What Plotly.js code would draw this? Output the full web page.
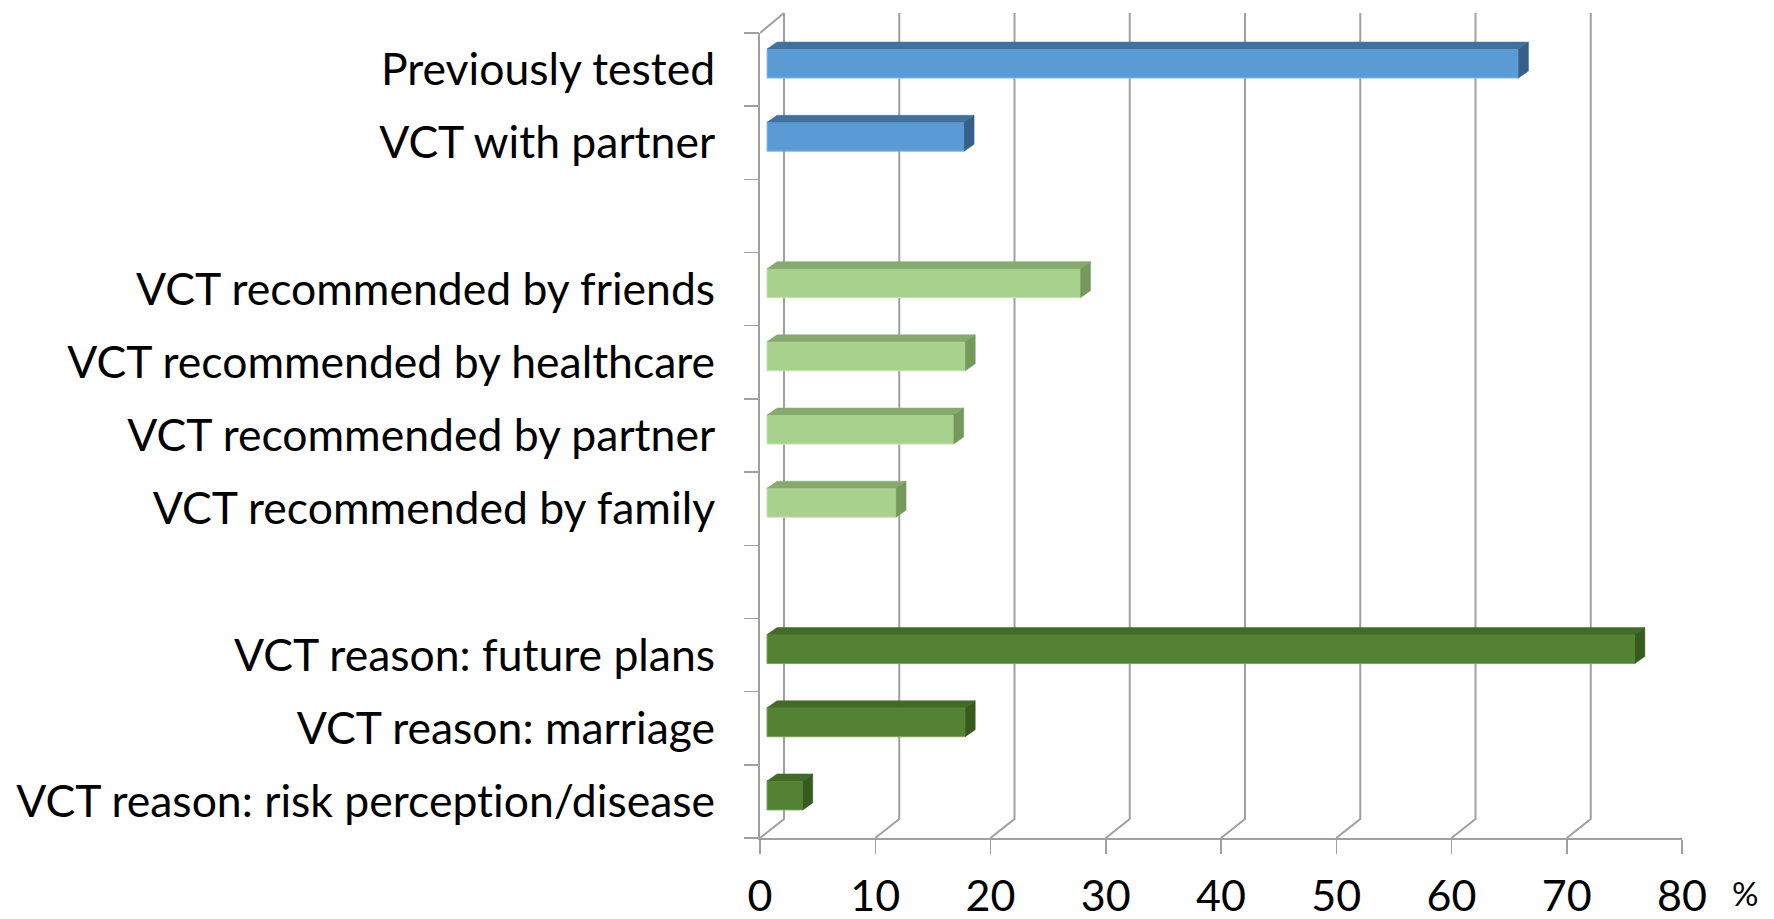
<!DOCTYPE html>
<html>
<head>
<meta charset="utf-8">
<script src="https://cdn.plot.ly/plotly-3.0.1.min.js"></script>
<style>html,body{margin:0;padding:0;background:#fff;}#chart{width:1774px;height:919px;}
#chart text{font-variant-ligatures:none;font-feature-settings:"liga" 0;}</style>
</head>
<body>
<div id="chart"></div>
<script>
// ---- data ----
const testLabels = ['Previously tested', 'VCT with partner'];
const testValues = [65.2, 17.1];
const recLabels = ['VCT recommended by friends', 'VCT recommended by healthcare', 'VCT recommended by partner', 'VCT recommended by family'];
const recValues = [27.2, 17.2, 16.2, 11.2];
const reasonLabels = ['VCT reason: future plans', 'VCT reason: marriage', 'VCT reason: risk perception/disease'];
const reasonValues = [75.3, 17.2, 3.1];
const xTickVals = [0, 10, 20, 30, 40, 50, 60, 70, 80];
const xUnit = '%';

// ---- geometry (pixels) ----
const W = 1774, H = 919;
const M = {l: 760, r: 92, t: 33, b: 81};
const plotW = W - M.l - M.r, plotH = H - M.t - M.b;
const groups = [
  {labels: testLabels, values: testValues, front: '#5B9BD5', top: '#41719F', side: '#34618A', edge: '#8DBBE6'},
  {labels: recLabels, values: recValues, front: '#A9D18E', top: '#86A96D', side: '#739A5B', edge: '#C6E2B3'},
  {labels: reasonLabels, values: reasonValues, front: '#548235', top: '#436B28', side: '#375B1F', edge: '#7AA35A'}
];
let nSlots = 0;
groups.forEach((g, i) => { g.start = nSlots; nSlots += g.labels.length + (i < groups.length - 1 ? 1 : 0); });
const PX_X = plotW / 80, PX_Y = plotH / nSlots;
const FRONT_DX = 7, FRONT_DY = 6, DEPTH_DX = 10, DEPTH_DY = 7, BAR_H = 29;
const WALL_DX = 24, WALL_DY = 19;
const GRID = '#A0A0A0';

const traces = [];
const tickVals = [], tickText = [];
groups.forEach(g => {
  const slots = g.labels.map((_, i) => g.start + i);
  slots.forEach((s, i) => { tickVals.push(s); tickText.push(g.labels[i]); });
  const base = FRONT_DX / PX_X;
  const yc = slots.map(s => s - FRONT_DY / PX_Y);
  const dX = DEPTH_DX / PX_X, dY = DEPTH_DY / PX_Y, hh = BAR_H / PX_Y / 2;
  traces.push({type: 'bar', orientation: 'h', x: g.values, y: yc, base: base, width: BAR_H / PX_Y,
    marker: {color: g.front, line: {color: g.edge, width: 1}}, hoverinfo: 'skip', showlegend: false});
  const tx = [], ty = [], sx = [], sy = [];
  g.values.forEach((v, i) => {
    const x0 = base, x1 = base + v, yT = yc[i] - hh, yB = yc[i] + hh;
    tx.push(x0, x0 + dX, x1 + dX, x1, x0, null);
    ty.push(yT, yT - dY, yT - dY, yT, yT, null);
    sx.push(x1, x1 + dX, x1 + dX, x1, x1, null);
    sy.push(yT, yT - dY, yB - dY, yB, yT, null);
  });
  traces.push({type: 'scatter', mode: 'lines', x: tx, y: ty, fill: 'toself', fillcolor: g.top,
    line: {width: 0.5, color: g.top}, hoverinfo: 'skip', showlegend: false});
  traces.push({type: 'scatter', mode: 'lines', x: sx, y: sy, fill: 'toself', fillcolor: g.side,
    line: {width: 0.5, color: g.side}, hoverinfo: 'skip', showlegend: false});
});
// invisible trace for boundary tick axis
const bounds = [];
for (let i = 0; i <= nSlots; i++) bounds.push(i - 0.5);
traces.push({type: 'scatter', mode: 'markers', x: [0], y: [0], yaxis: 'y2', marker: {opacity: 0}, hoverinfo: 'skip', showlegend: false});

// back wall gridlines + floor diagonals
const shapes = xTickVals.map(t => ({
  type: 'path', xref: 'x', yref: 'paper', xsizemode: 'pixel', ysizemode: 'pixel', xanchor: t, yanchor: 0,
  path: `M0,0 L${WALL_DX},${WALL_DY} L${WALL_DX},${plotH + WALL_DY + 1}`,
  line: {color: GRID, width: 2}, layer: 'below'
}));
shapes.push({type: 'path', xref: 'x', yref: 'paper', xsizemode: 'pixel', ysizemode: 'pixel', xanchor: 0, yanchor: 0,
  path: `M0,${plotH} L${WALL_DX},${plotH + WALL_DY + 1}`, line: {color: GRID, width: 2}, layer: 'below'});

const FONT = 'Lato, "Open Sans", sans-serif';
const range = [nSlots - 0.5, -0.5];
const layout = {
  width: W, height: H, margin: M, paper_bgcolor: '#fff', plot_bgcolor: '#fff',
  font: {family: FONT, size: 44, color: '#000'},
  bargap: 0, showlegend: false,
  xaxis: {range: [0, 80], tickvals: xTickVals, ticks: 'outside', ticklen: 14, tickwidth: 1.5, tickcolor: GRID,
    showgrid: false, zeroline: false, showline: true, linecolor: GRID, linewidth: 2, fixedrange: true,
    ticklabelstandoff: 5, tickfont: {family: FONT, size: 43, color: '#000'}},
  yaxis: {range: range, tickvals: tickVals, ticktext: tickText, ticks: '', showgrid: false, zeroline: false,
    showline: true, linecolor: GRID, linewidth: 2, ticklabelstandoff: 34, fixedrange: true,
    tickfont: {family: FONT, size: 44.5, color: '#000'}},
  yaxis2: {range: range, overlaying: 'y', side: 'left', anchor: 'x', tickvals: bounds, ticks: 'outside', ticklen: 15,
    tickwidth: 1.5, tickcolor: GRID, showticklabels: false, showgrid: false, zeroline: false, showline: false, fixedrange: true},
  shapes: shapes,
  annotations: [{text: xUnit, xref: 'paper', yref: 'paper', x: (1745 - M.l) / plotW, y: -(893 - (H - M.b)) / plotH,
    xanchor: 'center', yanchor: 'middle', showarrow: false, font: {family: FONT, size: 33, color: '#000'}}]
};
Plotly.newPlot('chart', traces, layout, {displayModeBar: false, staticPlot: true});
</script>
</body>
</html>
